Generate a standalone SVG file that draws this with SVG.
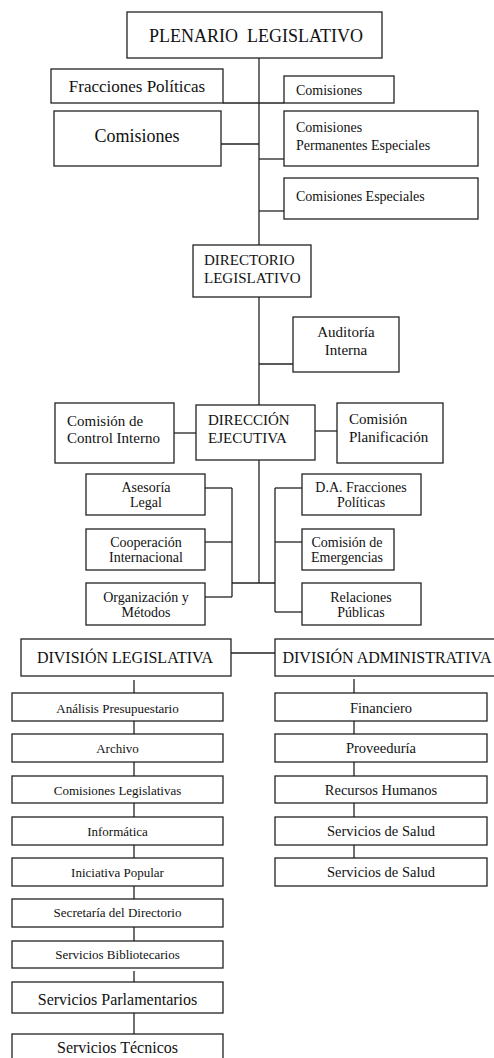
<svg xmlns="http://www.w3.org/2000/svg" width="494" height="1058" viewBox="0 0 494 1058">
<style>
rect{fill:#fff;stroke:#222;stroke-width:1.3}
line{stroke:#222;stroke-width:1.3}
text{font-family:"Liberation Serif","Times New Roman",serif;fill:#111}
.m{text-anchor:middle}
</style>
<rect x="0" y="0" width="494" height="1058" style="stroke:none"/>
<g id="connectors">
<line x1="259" y1="58" x2="259" y2="245"/>
<line x1="223" y1="103" x2="284" y2="103"/>
<line x1="221" y1="144" x2="259" y2="144"/>
<line x1="259" y1="159" x2="284" y2="159"/>
<line x1="259" y1="211" x2="284" y2="211"/>
<line x1="259" y1="297" x2="259" y2="405"/>
<line x1="259" y1="364" x2="293" y2="364"/>
<line x1="174" y1="433" x2="196" y2="433"/>
<line x1="315" y1="431" x2="337" y2="431"/>
<line x1="259" y1="460" x2="259" y2="583"/>
<line x1="232" y1="488" x2="232" y2="597"/>
<line x1="205" y1="488" x2="232" y2="488"/>
<line x1="205" y1="542" x2="232" y2="542"/>
<line x1="205" y1="597" x2="232" y2="597"/>
<line x1="232" y1="583" x2="275" y2="583"/>
<line x1="275" y1="488" x2="275" y2="612"/>
<line x1="275" y1="488" x2="302" y2="488"/>
<line x1="275" y1="542" x2="302" y2="542"/>
<line x1="275" y1="612" x2="302" y2="612"/>
<line x1="231" y1="653" x2="275" y2="653"/>
<line x1="134" y1="680" x2="134" y2="693"/>
<line x1="134" y1="721" x2="134" y2="734"/>
<line x1="134" y1="762" x2="134" y2="776"/>
<line x1="134" y1="803" x2="134" y2="817"/>
<line x1="134" y1="845" x2="134" y2="858"/>
<line x1="134" y1="886" x2="134" y2="899"/>
<line x1="134" y1="927" x2="134" y2="941"/>
<line x1="134" y1="971" x2="134" y2="982"/>
<line x1="134" y1="1013" x2="134" y2="1034"/>
<line x1="354" y1="679" x2="354" y2="693"/>
<line x1="354" y1="721" x2="354" y2="734"/>
<line x1="354" y1="762" x2="354" y2="776"/>
<line x1="354" y1="803" x2="354" y2="817"/>
<line x1="354" y1="845" x2="354" y2="858"/>
</g>
<g id="plenario"><rect x="127" y="12" width="255" height="46"/><text x="256" y="42" class="m" font-size="18" xml:space="preserve">PLENARIO  LEGISLATIVO</text></g>
<g id="fracciones"><rect x="51" y="69" width="172" height="34"/><text x="137" y="92" class="m" font-size="17">Fracciones Políticas</text></g>
<g id="comisiones-small"><rect x="284" y="76" width="110" height="27"/><text x="296" y="95" font-size="14">Comisiones</text></g>
<g id="comisiones-big"><rect x="54" y="111" width="167" height="55"/><text x="137" y="142" class="m" font-size="18">Comisiones</text></g>
<g id="comisiones-perm"><rect x="284" y="111" width="194" height="55"/><text x="296" y="132" font-size="14">Comisiones</text><text x="296" y="150" font-size="14">Permanentes Especiales</text></g>
<g id="comisiones-esp"><rect x="284" y="178" width="194" height="41"/><text x="296" y="201" font-size="14">Comisiones Especiales</text></g>
<g id="directorio"><rect x="193" y="245" width="118" height="52"/><text x="204" y="265" font-size="15">DIRECTORIO</text><text x="204" y="283" font-size="15">LEGISLATIVO</text></g>
<g id="auditoria"><rect x="293" y="317" width="106" height="55"/><text x="346" y="337" class="m" font-size="15">Auditoría</text><text x="346" y="355" class="m" font-size="15">Interna</text></g>
<g id="control"><rect x="55" y="403" width="119" height="60"/><text x="67" y="426" font-size="15">Comisión de</text><text x="67" y="443" font-size="15">Control Interno</text></g>
<g id="direccion"><rect x="196" y="405" width="119" height="55"/><text x="208" y="425" font-size="15">DIRECCIÓN</text><text x="208" y="443" font-size="15">EJECUTIVA</text></g>
<g id="planificacion"><rect x="337" y="403" width="106" height="60"/><text x="349" y="424" font-size="15">Comisión</text><text x="349" y="442" font-size="15">Planificación</text></g>
<g id="asesoria"><rect x="86" y="474" width="119" height="41"/><text x="146" y="492" class="m" font-size="14">Asesoría</text><text x="146" y="507" class="m" font-size="14">Legal</text></g>
<g id="cooperacion"><rect x="86" y="529" width="119" height="41"/><text x="146" y="547" class="m" font-size="14">Cooperación</text><text x="146" y="562" class="m" font-size="14">Internacional</text></g>
<g id="organizacion"><rect x="86" y="583" width="119" height="42"/><text x="146" y="602" class="m" font-size="14">Organización y</text><text x="146" y="617" class="m" font-size="14">Métodos</text></g>
<g id="da-fracciones"><rect x="302" y="474" width="119" height="41"/><text x="361" y="492" class="m" font-size="14">D.A. Fracciones</text><text x="361" y="507" class="m" font-size="14">Políticas</text></g>
<g id="emergencias"><rect x="302" y="529" width="92" height="41"/><text x="347" y="547" class="m" font-size="14">Comisión de</text><text x="347" y="562" class="m" font-size="14">Emergencias</text></g>
<g id="relaciones"><rect x="302" y="583" width="119" height="42"/><text x="361" y="602" class="m" font-size="14">Relaciones</text><text x="361" y="617" class="m" font-size="14">Públicas</text></g>
<g id="div-leg"><rect x="21" y="639" width="210" height="37"/><text x="125" y="663" class="m" font-size="16">DIVISIÓN LEGISLATIVA</text></g>
<g id="div-adm"><rect x="275" y="639" width="222" height="37"/><text x="387" y="663" class="m" font-size="16">DIVISIÓN ADMINISTRATIVA</text></g>
<g id="analisis"><rect x="12" y="693" width="211" height="28"/><text x="117.5" y="713" class="m" font-size="13">Análisis Presupuestario</text></g>
<g id="archivo"><rect x="12" y="734" width="211" height="28"/><text x="117.5" y="753" class="m" font-size="13">Archivo</text></g>
<g id="com-leg"><rect x="12" y="776" width="211" height="27"/><text x="117.5" y="795" class="m" font-size="13">Comisiones Legislativas</text></g>
<g id="informatica"><rect x="12" y="817" width="211" height="28"/><text x="117.5" y="836" class="m" font-size="13">Informática</text></g>
<g id="iniciativa"><rect x="12" y="858" width="211" height="28"/><text x="117.5" y="877" class="m" font-size="13">Iniciativa Popular</text></g>
<g id="secretaria"><rect x="12" y="899" width="211" height="28"/><text x="117.5" y="917" class="m" font-size="13">Secretaría del Directorio</text></g>
<g id="bibliotecarios"><rect x="12" y="941" width="211" height="27"/><text x="117.5" y="959" class="m" font-size="13">Servicios Bibliotecarios</text></g>
<g id="parlamentarios"><rect x="12" y="982" width="211" height="31"/><text x="117.5" y="1005" class="m" font-size="16">Servicios Parlamentarios</text></g>
<g id="tecnicos"><rect x="12" y="1034" width="211" height="30"/><text x="117.5" y="1053" class="m" font-size="16">Servicios Técnicos</text></g>
<g id="financiero"><rect x="275" y="693" width="212" height="28"/><text x="381" y="713" class="m" font-size="14.5">Financiero</text></g>
<g id="proveeduria"><rect x="275" y="734" width="212" height="28"/><text x="381" y="753" class="m" font-size="14.5">Proveeduría</text></g>
<g id="rrhh"><rect x="275" y="776" width="212" height="27"/><text x="381" y="795" class="m" font-size="14.5">Recursos Humanos</text></g>
<g id="salud1"><rect x="275" y="817" width="212" height="28"/><text x="381" y="836" class="m" font-size="14.5">Servicios de Salud</text></g>
<g id="salud2"><rect x="275" y="858" width="212" height="28"/><text x="381" y="877" class="m" font-size="14.5">Servicios de Salud</text></g>
</svg>
